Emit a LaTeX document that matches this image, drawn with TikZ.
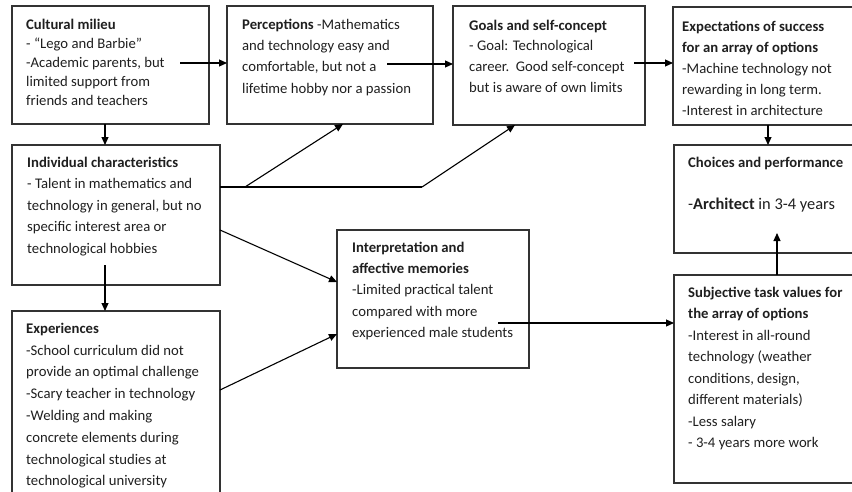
\documentclass[tikz,border=0pt]{standalone}
\usepackage{fontspec}
\setmainfont{Carlito}
\usetikzlibrary{arrows.meta}

% fixed-height strut so every text block's first baseline sits 12pt below its top
\newcommand\firststrut{\rule{0pt}{12pt}}

\begin{document}
\begin{tikzpicture}[x=1pt,y=-1pt,
  box/.style={draw=black!80, line width=1.2pt, rectangle, anchor=north west, inner sep=0pt, outer sep=0pt},
  txt/.style={anchor=north west, inner sep=0pt, align=left, text=black!88},
  arr/.style={draw=black, line width=1.1pt, -{Triangle[length=8pt,width=7pt]}},
  ln/.style={draw=black, line width=1.1pt}]
\useasboundingbox (0,0) rectangle (852,491);
\clip (0,0) rectangle (852,491);

% boxes
\node[box, minimum width=197pt, minimum height=118pt] (cult)   at (12,6)   {};
\node[box, minimum width=206pt, minimum height=118pt] (perc)   at (227,6)  {};
\node[box, minimum width=192pt, minimum height=119pt] (goals)  at (453,6)  {};
\node[box, minimum width=190pt, minimum height=118pt] (expect) at (673,7)  {};
\node[box, minimum width=208pt, minimum height=140pt] (indiv)  at (12,145) {};
\node[box, minimum width=208pt, minimum height=195pt] (exper)  at (12,311) {};
\node[box, minimum width=192pt, minimum height=138pt] (interp) at (337,230) {};
\node[box, minimum width=190pt, minimum height=108pt] (choice) at (674,145) {};
\node[box, minimum width=190pt, minimum height=208pt] (subj)   at (674,275) {};

% texts
\node[txt, font=\fontsize{14.7}{19}\selectfont] (cultT) at (26,17) {\firststrut\textbf{Cultural milieu}\\
- “Lego and Barbie”\\
-Academic parents, but\\
limited support from\\
friends and teachers};

\node[txt, font=\fontsize{14.7}{21.3}\selectfont] (percT) at (242,17) {\firststrut\textbf{Perceptions} -Mathematics\\
and technology easy and\\
comfortable, but not a\\
lifetime hobby nor a passion};

\node[txt, font=\fontsize{14.7}{20.6}\selectfont] (goalsT) at (469,18) {\firststrut\textbf{Goals and self-concept}\\
- Goal: Technological\\
career.\ \ Good self-concept\\
but is aware of own limits};

\node[txt, font=\fontsize{14.7}{21}\selectfont] (expectT) at (682,19) {\firststrut\textbf{Expectations of success}\\
\textbf{for an array of options}\\
-Machine technology not\\
rewarding in long term.\\
-Interest in architecture};

\node[txt, font=\fontsize{14.7}{21.5}\selectfont] (indivT) at (27,155) {\firststrut\textbf{Individual characteristics}\\
- Talent in mathematics and\\
technology in general, but no\\
specific interest area or\\
technological hobbies};

\node[txt, font=\fontsize{14.7}{21.8}\selectfont] (experT) at (26,321) {\firststrut\textbf{Experiences}\\
-School curriculum did not\\
provide an optimal challenge\\
-Scary teacher in technology\\
-Welding and making\\
concrete elements during\\
technological studies at\\
technological university};

\node[txt, font=\fontsize{14.7}{21.3}\selectfont] (interpT) at (352,240) {\firststrut\textbf{Interpretation and}\\
\textbf{affective memories}\\
-Limited practical talent\\
compared with more\\
experienced male students};

\node[txt, font=\fontsize{14.7}{21}\selectfont] (choiceT) at (688,155) {\firststrut\textbf{Choices and performance}};
\node[txt, font=\fontsize{16.4}{21}\selectfont] (archT) at (688,197) {\firststrut-\textbf{Architect} in 3-4 years};

\node[txt, font=\fontsize{14.7}{21.5}\selectfont] (subjT) at (688,285) {\firststrut\textbf{Subjective task values for}\\
\textbf{the array of options}\\
-Interest in all-round\\
technology (weather\\
conditions, design,\\
different materials)\\
-Less salary\\
- 3-4 years more work};

% connector end points
\coordinate (cultOut)   at (180,63);
\coordinate (percOut)   at (387,64);
\coordinate (goalsOut)  at (634,63);
\coordinate (colA)      at (105,0);
\coordinate (indivDown) at (105,265);
\coordinate (indivOut)  at (220,187);
\coordinate (forkA)     at (245,187);
\coordinate (forkB)     at (422,187);
\coordinate (percIn)    at (343,124);
\coordinate (goalsIn)   at (515,125);
\coordinate (indivDiag) at (220,230);
\coordinate (interpInA) at (337,282);
\coordinate (experOut)  at (220,390);
\coordinate (interpInB) at (337,334);
\coordinate (interpOut) at (498,323);
\coordinate (colB)      at (768,0);
\coordinate (colC)      at (777,0);
\coordinate (choiceIn)  at (777,233);

% connectors
\draw[arr] (cultOut) -- (cultOut -| perc.west);
\draw[arr] (percOut) -- (percOut -| goals.west);
\draw[arr] (goalsOut) -- (goalsOut -| expect.west);
\draw[arr] (cult.south -| colA) -- (indiv.north -| colA);
\draw[arr] (indivDown) -- (exper.north -| colA);
\draw[ln] (indivOut) -- (forkB);
\draw[arr] (forkA) -- (percIn);
\draw[arr] (forkB) -- (goalsIn);
\draw[arr] (indivDiag) -- (interpInA);
\draw[arr] (experOut) -- (interpInB);
\draw[arr] (interpOut) -- (interpOut -| subj.west);
\draw[arr] (expect.south -| colB) -- (choice.north -| colB);
\draw[arr] (subj.north -| colC) -- (choiceIn);
\end{tikzpicture}
\end{document}
